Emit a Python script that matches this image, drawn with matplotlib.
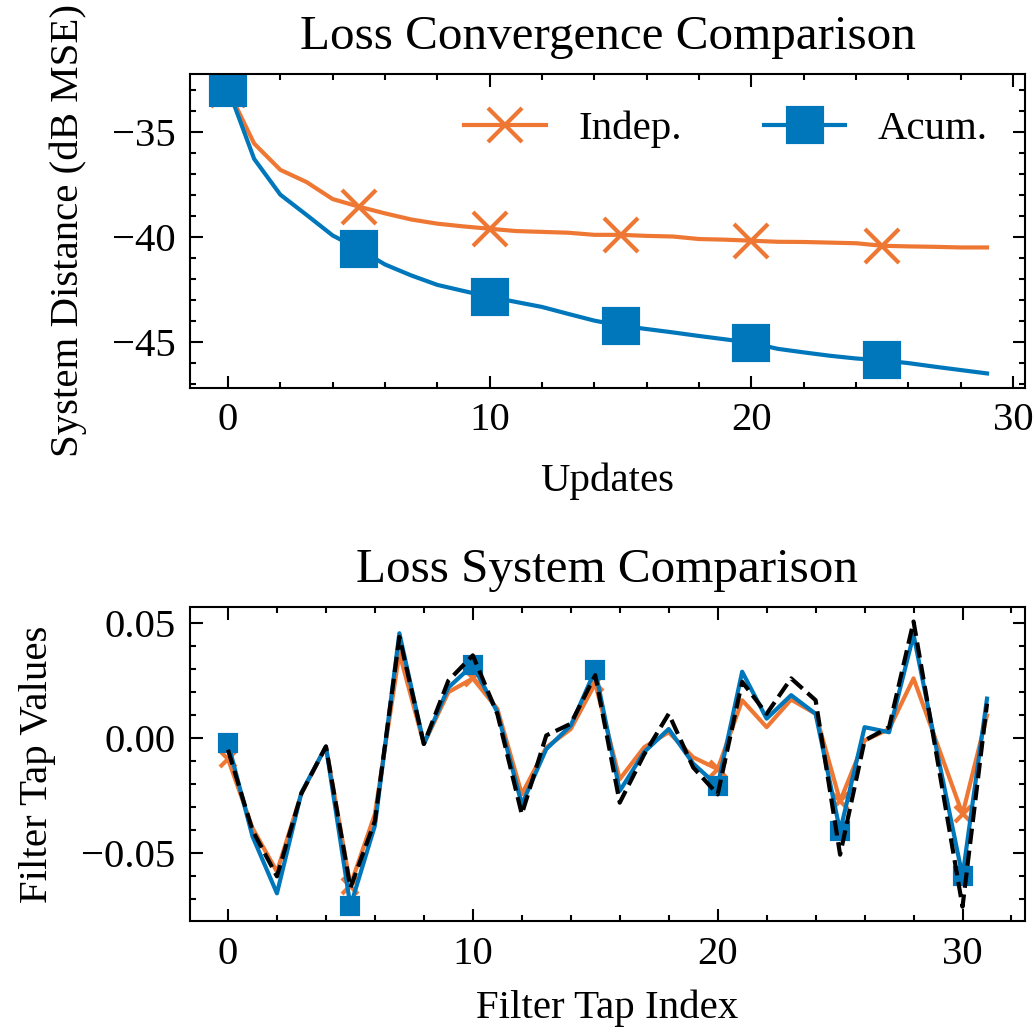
import matplotlib
matplotlib.use("Agg")
import matplotlib.pyplot as plt
import numpy as np

# science-like look
plt.rcParams.update({
    "font.family": "serif",
    "font.serif": ["Liberation Serif", "DejaVu Serif"],
    "font.size": 9.8,
    "axes.titlesize": 11.8,
    "axes.linewidth": 0.5,
    "lines.linewidth": 1.0,
    "xtick.direction": "in",
    "ytick.direction": "in",
    "xtick.top": True,
    "ytick.right": True,
    "xtick.minor.visible": True,
    "ytick.minor.visible": True,
    "xtick.major.size": 3,
    "ytick.major.size": 3,
    "xtick.minor.size": 1.5,
    "ytick.minor.size": 1.5,
    "xtick.major.width": 0.5,
    "ytick.major.width": 0.5,
    "xtick.minor.width": 0.5,
    "ytick.minor.width": 0.5,
    "legend.frameon": False,
})

orange = "#EE7733"
blue = "#0077BB"

# convergence curves (dB MSE per update)
updates = list(range(30))
indep_loss = [-33.0, -35.56, -36.81, -37.39, -38.2, -38.56, -38.88, -39.17, -39.37, -39.5,
              -39.61, -39.72, -39.76, -39.8, -39.9, -39.9, -39.95, -39.98, -40.1, -40.13,
              -40.18, -40.23, -40.24, -40.27, -40.3, -40.42, -40.45, -40.47, -40.5, -40.5]
acum_loss = [-32.93, -36.29, -37.99, -38.95, -39.93, -40.58, -41.31, -41.83, -42.28, -42.57,
             -42.85, -43.09, -43.33, -43.66, -43.98, -44.22, -44.38, -44.54, -44.71, -44.87,
             -45.03, -45.32, -45.49, -45.65, -45.78, -45.87, -46.0, -46.17, -46.33, -46.49]

# filter taps
taps = list(range(32))
indep_taps = [-0.009, -0.039, -0.058, -0.024, -0.0036, -0.064, -0.033, 0.037, -0.0025, 0.020,
              0.026, 0.0128, -0.0243, -0.004, 0.004, 0.0238, -0.0178, -0.0039, 0.0026, -0.0083,
              -0.0134, 0.0165, 0.0048, 0.0168, 0.0106, -0.0273, -0.001, 0.004, 0.026, -0.0035,
              -0.033, 0.0099]
acum_taps = [-0.002, -0.0426, -0.0674, -0.0236, -0.0036, -0.073, -0.038, 0.0456, -0.0025, 0.022,
             0.0318, 0.0114, -0.0287, -0.0047, 0.0055, 0.0296, -0.0229, -0.006, 0.004, -0.011,
             -0.0207, 0.0289, 0.0085, 0.0187, 0.0106, -0.0404, 0.0048, 0.0026, 0.0449, -0.008,
             -0.060, 0.0172]
true_taps = [-0.005, -0.040, -0.060, -0.024, -0.0036, -0.065, -0.036, 0.044, -0.0025, 0.025,
             0.036, 0.0106, -0.033, 0.0012, 0.0063, 0.0274, -0.028, -0.007, 0.0106, -0.0127,
             -0.0244, 0.0245, 0.0106, 0.026, 0.0165, -0.0506, -0.001, 0.0048, 0.0507, -0.011,
             -0.0732, 0.015]

fig, (ax1, ax2) = plt.subplots(2, 1, figsize=(3.45, 3.44), dpi=300)
plt.subplots_adjust(left=0.1836, right=0.9903, top=0.9283, bottom=0.1076, hspace=0.70)

ax1.plot(updates, indep_loss, color=orange, marker="x", markersize=8, markevery=5, label="Indep.")
ax1.plot(updates, acum_loss, color=blue, marker="s", markersize=8, markevery=5, label="Acum.")
ax1.set_title("Loss Convergence Comparison")
ax1.set_xlabel("Updates", labelpad=5.5)
ax1.set_ylabel("System Distance (dB MSE)", labelpad=6)
ax1.legend(loc="upper right", ncol=2)

ax2.plot(taps, indep_taps, color=orange, marker="x", markersize=4, markevery=5)
ax2.plot(taps, acum_taps, color=blue, marker="s", markersize=4, markevery=5)
ax2.plot(taps, true_taps, "k--")
ax2.set_title("Loss System Comparison")
ax2.set_xlabel("Filter Tap Index", labelpad=4)
ax2.set_ylabel("Filter Tap Values", labelpad=6)

plt.savefig("out.png", dpi=300)
